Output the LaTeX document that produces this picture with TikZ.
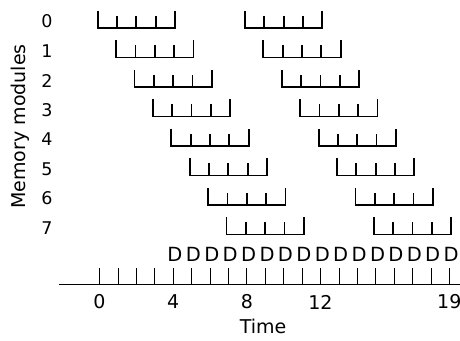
\documentclass[tikz,border=0pt]{standalone}
\usepackage{fontspec}
\setmainfont{DejaVu Sans}
\usepackage{tikz}

\tikzset{
  bar/.style={line width=1.8pt},
  rowlabel/.style={font=\fontsize{17.5}{19}\selectfont},
  timelabel/.style={font=\fontsize{19}{21}\selectfont},
  dlabel/.style={font=\fontsize{19.5}{21}\selectfont, inner sep=0pt}
}

% one memory access: four cycles, drawn as a comb
\newcommand{\membar}[2]{%
  \draw[bar] (#1-0.1,#2-0.58) -- (#1-0.1,#2) -- (#1+4.1,#2) -- (#1+4.1,#2-0.58);
  \foreach \c in {1,2,3} \draw[bar] (#1-0.1+1.05*\c,#2) -- ++(0,-0.41);%
}

\begin{document}
\begin{tikzpicture}[x=18.41pt, y=-29.5pt]
\useasboundingbox (-5.405,-0.949) rectangle (19.58,10.576);
% modules
\foreach \i in {0,...,7} {
  \node[rowlabel] (row\i) at (-2.85,\i-0.22) {\i};
  \membar{\i}{\i}
  \membar{\i+8}{\i}
}
\node[rowlabel, font=\fontsize{19}{21}\selectfont, rotate=90] (modules) at (-4.32,3.34) {Memory modules};
% data words
\foreach \t in {4,...,19} \node[dlabel] (d\t) at (\t+0.1,7.69) {D};
% time axis
\draw[line width=0.8pt] (-2.2,8.68) -- (19.58,8.68);
\foreach \t in {0,...,19} \draw[line width=0.7pt] (\t,8.68) -- (\t,8.14);
\foreach \t in {0,4,8,12,19} \node[timelabel] (t\t) at (\t,9.29) {\t};
\node[timelabel] (time) at (8.88,10.1) {Time};
\end{tikzpicture}
\end{document}
